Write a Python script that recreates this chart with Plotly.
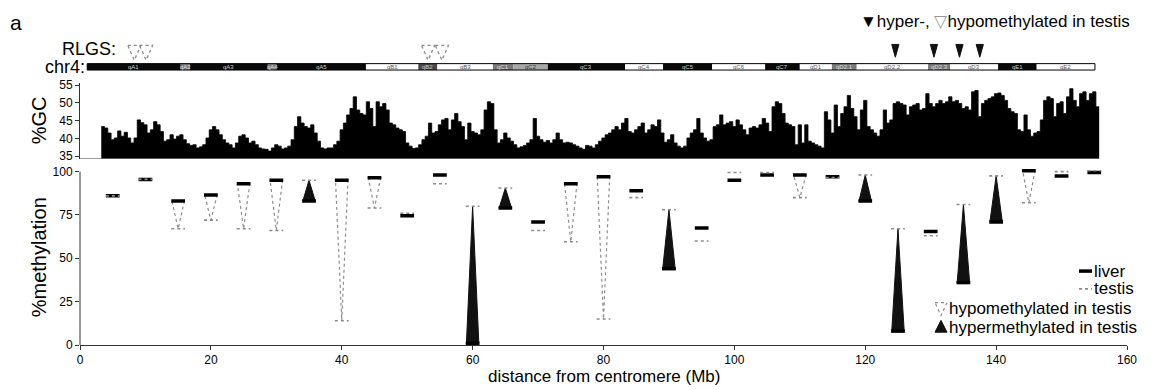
import numpy as np
import plotly.graph_objects as go

# ---------------- data ----------------
# %GC profile (0.5 Mb bins starting at 3.5 Mb)
gc_start_mb = 3.5
gc_step_mb = 0.5
gc_percent = [
    43.3, 42.9, 41.5, 39.6, 40.1, 42.1, 40.6, 41.7, 40.1, 38.7, 40.1, 45.2, 44.4, 43.8, 41.5, 42.4,
    44.7, 43.8, 41.9, 39.2, 39.6, 41.0, 39.8, 40.6, 41.0, 39.6, 38.5, 38.0, 38.2, 37.3, 37.6, 38.2,
    40.1, 42.4, 43.3, 42.4, 41.0, 39.6, 38.7, 38.2, 37.3, 38.7, 40.6, 41.0, 40.1, 38.7, 39.2, 38.2,
    37.3, 37.0, 36.9, 36.4, 37.3, 38.2, 37.8, 37.0, 37.3, 37.8, 39.6, 43.3, 46.1, 44.3, 43.3, 42.9,
    43.8, 41.5, 39.2, 37.3, 37.0, 37.3, 37.3, 38.2, 39.2, 42.4, 44.3, 46.6, 48.4, 51.7, 48.0, 47.0,
    46.6, 50.3, 48.4, 43.3, 50.3, 48.9, 49.8, 48.0, 44.3, 43.8, 42.9, 42.4, 41.9, 38.7, 37.8, 37.1,
    37.3, 38.2, 39.6, 40.6, 44.3, 41.5, 41.9, 43.8, 45.2, 45.6, 42.4, 45.2, 47.0, 44.7, 43.3, 39.6,
    44.3, 41.9, 41.5, 41.0, 42.4, 48.0, 50.3, 49.8, 42.4, 38.7, 39.6, 41.5, 40.1, 39.2, 38.2, 37.3,
    37.6, 38.0, 38.7, 39.6, 45.6, 40.6, 39.6, 38.9, 39.4, 38.7, 39.6, 41.5, 39.6, 38.7, 38.9, 38.7,
    38.2, 37.8, 37.3, 36.9, 38.0, 37.8, 37.3, 38.2, 39.2, 40.1, 41.0, 41.5, 42.4, 43.3, 42.4, 44.3,
    45.6, 41.9, 41.5, 42.4, 43.3, 44.3, 41.5, 42.4, 43.8, 43.3, 45.2, 41.5, 38.9, 39.6, 41.0, 38.7,
    37.8, 37.3, 37.8, 40.1, 41.5, 42.4, 45.6, 41.5, 40.1, 39.2, 39.6, 43.3, 43.8, 46.6, 43.8, 44.3,
    44.7, 43.3, 45.2, 43.8, 42.4, 41.0, 42.9, 43.3, 42.9, 43.8, 45.6, 44.3, 41.9, 48.9, 50.3, 49.8,
    47.0, 44.3, 43.8, 43.3, 38.2, 43.8, 38.7, 43.8, 39.2, 38.7, 38.2, 37.8, 37.3, 47.5, 45.2, 41.5,
    49.4, 43.3, 47.0, 48.9, 52.1, 48.4, 46.1, 42.4, 48.0, 50.7, 43.3, 42.4, 41.5, 40.6, 42.4, 48.0,
    44.3, 45.2, 49.8, 50.3, 49.8, 49.4, 46.6, 48.9, 49.4, 49.8, 48.0, 48.4, 52.6, 49.8, 48.9, 49.8,
    50.7, 49.8, 50.3, 51.7, 50.3, 50.7, 49.8, 48.4, 48.9, 48.0, 53.1, 53.5, 46.1, 49.8, 50.7, 51.2,
    51.7, 52.6, 52.8, 52.1, 50.7, 48.4, 47.5, 47.0, 42.4, 41.9, 46.6, 42.4, 40.6, 41.5, 41.9, 45.2,
    50.7, 51.7, 51.2, 46.1, 49.8, 50.3, 47.0, 51.7, 54.0, 50.7, 48.9, 52.6, 53.1, 50.7, 52.6, 53.1,
    48.9,
]

# methylation loci
loci_mb = [5, 10, 15, 20, 25, 30, 35, 40, 45, 50, 55, 60, 65, 70, 75, 80,
           85, 90, 95, 100, 105, 110, 115, 120, 125, 130, 135, 140, 145, 150, 155]
liver_pct = [86, 95.5, 83, 86.5, 93, 95, 83, 95, 96.5, 74.5, 98, 1, 79, 71, 93, 97,
             89, 44, 67.5, 95, 98, 98, 97, 83, 8, 65.5, 36, 71, 100.5, 97.5, 99.5]
testis_pct = [86, 95.5, 67, 72, 67, 66, 95, 14, 79, 76, 93, 80, 90.5, 66, 59.5, 15,
              85, 78, 60, 99.5, 99.5, 85, 96.5, 98, 67, 63, 81, 97.5, 82, 100, 100.5]
status = ['', '', 'hypo', 'hypo', 'hypo', 'hypo', 'hyper', 'hypo', 'hypo', '', '', 'hyper',
          'hyper', '', 'hypo', 'hypo', '', 'hyper', '', '', '', 'hypo', '', 'hyper', 'hyper',
          '', 'hyper', 'hyper', 'hypo', '', '']

# RLGS spots
rlgs_hypo_mb = [8.3, 10.1, 53.2, 55.3]
rlgs_hyper_mb = [124.6, 130.5, 134.4, 137.5]

# chr4 ideogram bands
band_names = ['qA1', 'qA2', 'qA3', 'qA4', 'qA5', 'qB1', 'qB2', 'qB3', 'qC1', 'qC2', 'qC3',
              'qC4', 'qC5', 'qC6', 'qC7', 'qD1', 'qD2.1', 'qD2.2', 'qD2.3', 'qD3', 'qE1', 'qE2']
band_start_mb = [1.1, 15.4, 16.8, 28.7, 30.0, 43.7, 51.7, 54.6, 63.1, 66.2, 71.5,
                 83.3, 89.1, 96.6, 104.7, 110.0, 114.9, 118.7, 129.6, 133.0, 140.3, 146.2]
band_end_mb = band_start_mb[1:] + [155.1]
band_stain = ['k', 'g', 'k', 'g', 'k', 'w', 'd', 'w', 'g', 'l', 'k',
              'w', 'k', 'w', 'k', 'w', 'g', 'w', 'g', 'w', 'k', 'w']

x_ticks = [0, 20, 40, 60, 80, 100, 120, 140, 160]
gc_ticks = [35, 40, 45, 50, 55]
meth_ticks = [0, 25, 50, 75, 100]

# ---------------- layout helpers ----------------
W, H = 1151, 390
ML, MR, MT, MBOT = 80, 24, 0, 45
PH = H - MT - MBOT
PW = W - ML - MR
FONT = "Liberation Sans, Arial, sans-serif"


def pxx(px):
    return (px - ML) / PW


def pxy(py):
    return (H - MBOT - py) / PH


gc_mb = gc_start_mb + gc_step_mb * np.arange(len(gc_percent))
gc_edges = list(gc_mb - gc_step_mb / 2) + [float(gc_mb[-1]) + gc_step_mb / 2]
gc_steps = list(gc_percent) + [gc_percent[-1]]

fig = go.Figure()

# GC profile (step area)
fig.add_trace(go.Scatter(x=gc_edges, y=gc_steps, xaxis='x', yaxis='y2', mode='lines',
                         line=dict(color='black', width=0.8, shape='hv'), fill='tozeroy',
                         fillcolor='black', showlegend=False, hoverinfo='skip'))

# methylation triangles
HW = 0.95
hypo_x, hypo_y, hyper_x, hyper_y = [], [], [], []
for x, l, t, s in zip(loci_mb, liver_pct, testis_pct, status):
    if s == 'hypo':
        hypo_x += [x - HW, x + HW, x, x - HW, None]
        hypo_y += [l, l, t, l, None]
    elif s == 'hyper':
        hyper_x += [x - HW, x + HW, x, x - HW, None]
        hyper_y += [l, l, t, l, None]

fig.add_trace(go.Scatter(x=hypo_x, y=hypo_y, mode='lines', fill='toself', fillcolor='white',
                         line=dict(color='#8c8c8c', width=1.2, dash='dot'),
                         showlegend=False, hoverinfo='skip'))
fig.add_trace(go.Scatter(x=hyper_x, y=hyper_y, mode='lines', fill='toself', fillcolor='#111',
                         line=dict(color='#111', width=1),
                         showlegend=False, hoverinfo='skip'))

DW = 1.05
lx, ly, tx, ty = [], [], [], []
for x, l, t in zip(loci_mb, liver_pct, testis_pct):
    lx += [x - DW, x + DW, None]
    ly += [l, l, None]
    tx += [x - DW, x + DW, None]
    ty += [t, t, None]
fig.add_trace(go.Scatter(x=lx, y=ly, mode='lines', line=dict(color='black', width=3.5),
                         showlegend=False, hoverinfo='skip'))
fig.add_trace(go.Scatter(x=tx, y=ty, mode='lines', line=dict(color='#8c8c8c', width=1.6, dash='dot'),
                         showlegend=False, hoverinfo='skip'))

# RLGS triangles (top panel, y3)
ox, oy, fx, fy = [], [], [], []
for x in rlgs_hypo_mb:
    ox += [x - 1.0, x + 1.0, x, x - 1.0, None]
    oy += [29, 29, 14, 29, None]
for x in rlgs_hyper_mb:
    fx += [x - 0.55, x + 0.55, x, x - 0.55, None]
    fy += [30, 30, 17, 30, None]
fig.add_trace(go.Scatter(x=ox, y=oy, mode='lines', xaxis='x', yaxis='y3',
                         line=dict(color='#8a8a8a', width=1.3, dash='dot'),
                         showlegend=False, hoverinfo='skip'))
fig.add_trace(go.Scatter(x=fx, y=fy, mode='lines', xaxis='x', yaxis='y3', fill='toself',
                         fillcolor='#111', line=dict(color='#111', width=1),
                         showlegend=False, hoverinfo='skip'))

shapes = []
annotations = []

# ideogram
stain_col = {'k': '#0a0a0a', 'w': '#ffffff', 'g': '#7a7a7a', 'd': '#4a4a4a', 'l': '#a8a8a8'}
stain_txt = {'k': '#cfcfcf', 'w': '#555', 'g': '#ddd', 'd': '#ccc', 'l': '#333'}
for nm, s0, s1, st in zip(band_names, band_start_mb, band_end_mb, band_stain):
    shapes.append(dict(type='rect', xref='x', yref='y3', x0=s0, x1=s1, y0=4, y1=10.5,
                       fillcolor=stain_col[st], line=dict(width=0), layer='above'))
    annotations.append(dict(x=(s0 + s1) / 2, y=7.25, xref='x', yref='y3', text=nm,
                            showarrow=False, font=dict(size=6, color=stain_txt[st], family=FONT)))
shapes.append(dict(type='rect', xref='x', yref='y3', x0=band_start_mb[0], x1=band_end_mb[-1],
                   y0=4, y1=10.5, line=dict(color='black', width=1), layer='above'))

# GC bottom line and methylation y axis line
shapes.append(dict(type='line', xref='x', yref='y2', x0=0, x1=gc_edges[-1],
                   y0=34.3, y1=34.3, line=dict(color='#333', width=1)))
shapes.append(dict(type='line', xref='paper', yref='y', x0=0, x1=0, y0=0, y1=100,
                   line=dict(color='#333', width=1)))

# legend (bottom right)
shapes.append(dict(type='line', xref='paper', yref='paper', x0=pxx(1079), x1=pxx(1092),
                   y0=pxy(270), y1=pxy(270), line=dict(color='black', width=3.5)))
shapes.append(dict(type='line', xref='paper', yref='paper', x0=pxx(1079), x1=pxx(1092),
                   y0=pxy(288), y1=pxy(288), line=dict(color='#8c8c8c', width=1.6, dash='dot')))
shapes.append(dict(type='path', xref='paper', yref='paper',
                   path=f"M {pxx(935)} {pxy(302)} L {pxx(947)} {pxy(302)} L {pxx(941)} {pxy(315)} Z",
                   fillcolor='white', line=dict(color='#8c8c8c', width=1.2, dash='dot')))
shapes.append(dict(type='path', xref='paper', yref='paper',
                   path=f"M {pxx(935)} {pxy(332)} L {pxx(947)} {pxy(332)} L {pxx(941)} {pxy(320)} Z",
                   fillcolor='#111', line=dict(color='#111', width=1)))

leg_font = dict(size=17, color='black', family=FONT)
annotations += [
    dict(x=pxx(1092), y=pxy(270), xref='paper', yref='paper', text='liver', showarrow=False,
         xanchor='left', yanchor='middle', font=leg_font),
    dict(x=pxx(1092), y=pxy(288), xref='paper', yref='paper', text='testis', showarrow=False,
         xanchor='left', yanchor='middle', font=leg_font),
    dict(x=pxx(947), y=pxy(308), xref='paper', yref='paper', text='hypomethylated in testis',
         showarrow=False, xanchor='left', yanchor='middle', font=leg_font),
    dict(x=pxx(947), y=pxy(327), xref='paper', yref='paper', text='hypermethylated in testis',
         showarrow=False, xanchor='left', yanchor='middle', font=leg_font),
    # top labels
    dict(x=pxx(8), y=pxy(18), xref='paper', yref='paper', text='a', showarrow=False,
         xanchor='left', yanchor='middle', font=dict(size=21, color='black', family=FONT)),
    dict(x=pxx(60), y=pxy(45), xref='paper', yref='paper', text='RLGS:', showarrow=False,
         xanchor='left', yanchor='middle', font=dict(size=18, color='black', family=FONT)),
    dict(x=pxx(87), y=pxy(63), xref='paper', yref='paper', text='chr4:', showarrow=False,
         xanchor='right', yanchor='middle', font=dict(size=18, color='black', family=FONT)),
    dict(x=pxx(858), y=pxy(17), xref='paper', yref='paper',
         text="<span style='color:#000'>▼</span>hyper-, <span style='color:#999'>▽</span>hypomethylated in testis",
         showarrow=False, xanchor='left', yanchor='middle', font=leg_font),
    # axis titles
    dict(x=pxx(39), y=pxy(117), xref='paper', yref='paper', text='%GC', showarrow=False,
         textangle=-90, xanchor='center', yanchor='middle',
         font=dict(size=20, color='black', family=FONT)),
    dict(x=pxx(39), y=pxy(256), xref='paper', yref='paper', text='%methylation', showarrow=False,
         textangle=-90, xanchor='center', yanchor='middle',
         font=dict(size=20, color='black', family=FONT)),
    dict(x=0.5, y=pxy(377), xref='paper', yref='paper', text='distance from centromere (Mb)',
         showarrow=False, xanchor='center', yanchor='middle', font=leg_font),
]

tickfont = dict(size=12, color='black', family=FONT)
fig.update_layout(
    width=W, height=H,
    margin=dict(l=ML, r=MR, t=MT, b=MBOT, pad=0),
    paper_bgcolor='white', plot_bgcolor='rgba(0,0,0,0)',
    showlegend=False,
    font=dict(family=FONT, color='black'),
    xaxis=dict(domain=[0, 1], range=[0, 160], anchor='y', tickvals=x_ticks,
               ticks='outside', ticklen=4, tickcolor='#333', showline=True, linecolor='#333',
               linewidth=1, showgrid=False, zeroline=False, tickfont=tickfont),
    yaxis=dict(domain=[0, pxy(162)], range=[0, 104], anchor='x', tickvals=meth_ticks,
               ticks='outside', ticklen=4, tickcolor='#333', showline=False,
               showgrid=False, zeroline=False, tickfont=tickfont),
    yaxis2=dict(domain=[pxy(155.8), pxy(79.5)], range=[34.3, 55.5], anchor='x', tickvals=gc_ticks,
                ticks='outside', ticklen=4, tickcolor='#333', showline=True, linecolor='#333',
                linewidth=1, showgrid=False, zeroline=False, tickfont=tickfont),
    yaxis3=dict(domain=[pxy(70), pxy(30)], range=[0, 40], anchor='x', visible=False,
                showgrid=False, zeroline=False),
    shapes=shapes,
    annotations=annotations,
)

fig.write_html("out.html")
